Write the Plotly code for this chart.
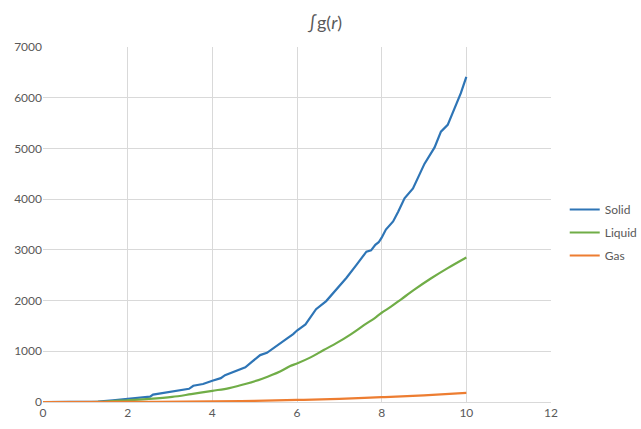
import plotly.graph_objects as go

# values
solid_r = [0, 0.5, 1.0, 1.3, 1.65, 2.0, 2.3, 2.53, 2.6, 2.92, 3.2, 3.45, 3.55, 3.78,
           4.0, 4.2, 4.3, 4.55, 4.78, 4.94, 5.13, 5.29, 5.45, 5.6, 5.76, 5.91, 6.0,
           6.2, 6.33, 6.45, 6.69, 6.93, 7.17, 7.4, 7.64, 7.75, 7.85, 7.93, 8.0, 8.1,
           8.27, 8.39, 8.54, 8.74, 8.85, 9.01, 9.25, 9.4, 9.56, 9.72, 9.87, 10.0]
solid_g = [0, 0, 5, 10, 35, 60, 80, 105, 145, 185, 220, 260, 320, 355,
           420, 470, 530, 610, 685, 795, 925, 970, 1060, 1160, 1250, 1340, 1410,
           1530, 1680, 1830, 1990, 2210, 2450, 2700, 2965, 2990, 3100, 3150, 3240, 3400,
           3560, 3750, 4015, 4210, 4410, 4695, 5020, 5330, 5465, 5790, 6090, 6410]

liquid_r = [0, 1.0, 1.5, 2.0, 2.5, 3.05, 3.5, 4.0, 4.4, 4.8, 5.18, 5.6, 5.84, 6.0,
            6.32, 6.63, 6.95, 7.27, 7.59, 7.83, 8.0, 8.22, 8.46, 8.78, 9.17, 9.56, 10.0]
liquid_g = [0, 0, 10, 35, 60, 100, 155, 220, 275, 360, 460, 600, 710, 760,
            880, 1025, 1170, 1335, 1520, 1650, 1760, 1880, 2025, 2220, 2440, 2640, 2850]

gas_r = [0, 2, 4, 5, 6, 7, 8, 9, 10]
gas_g = [0, 2, 12, 22, 40, 62, 95, 132, 178]

fig = go.Figure()
fig.add_trace(go.Scatter(x=solid_r, y=solid_g, mode='lines', name='Solid',
                         line=dict(color='#2E75B6', width=2.2), legendgroup='a'))
fig.add_trace(go.Scatter(x=liquid_r, y=liquid_g, mode='lines', name='Liquid',
                         line=dict(color='#70AD47', width=2.2, shape='spline'), legendgroup='b'))
fig.add_trace(go.Scatter(x=gas_r, y=gas_g, mode='lines', name='Gas',
                         line=dict(color='#ED7D31', width=2.2, shape='spline'), legendgroup='c'))

grid = '#D9D9D9'
fig.update_layout(
    width=641, height=429,
    margin=dict(l=43, r=90, t=47, b=27, autoexpand=False),
    paper_bgcolor='white', plot_bgcolor='white',
    font=dict(family='Lato, Open Sans, sans-serif', size=12, color='#595959'),
    title=dict(text='∫g(<i>r</i>)', x=0.507, xanchor='center', y=0.948, yanchor='middle',
               font=dict(size=18, color='#595959')),
    legend=dict(xref='container', yref='container', x=0.881, y=0.458,
                xanchor='left', yanchor='middle',
                tracegroupgap=4, font=dict(size=12, color='#595959')),
)
fig.update_xaxes(range=[0, 12], dtick=2, showgrid=True, gridcolor=grid, zeroline=False,
                 showline=True, linecolor=grid, linewidth=1, mirror=False,
                 ticks='', fixedrange=True)
fig.update_yaxes(range=[0, 7000], dtick=1000, showgrid=True, gridcolor=grid,
                 zeroline=False, ticks='', fixedrange=True)

# drop the default 8px page margin so the figure fills the window
fig.write_html("out.html", config={'displayModeBar': False},
               post_script="document.body.style.margin='0';")
